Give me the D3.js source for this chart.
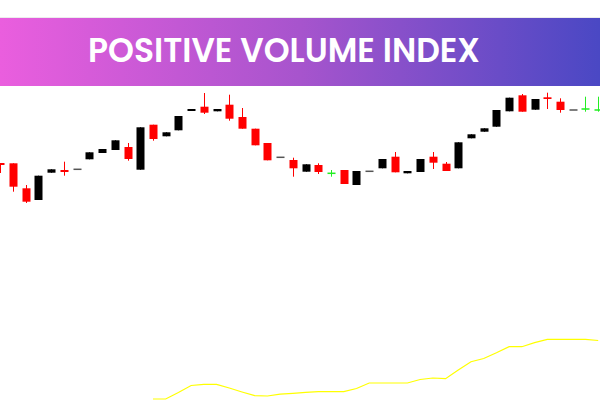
<!DOCTYPE html>
<html><head><meta charset="utf-8">
<script src="https://cdn.jsdelivr.net/npm/d3@7"></script>
<style>html,body{margin:0;padding:0;background:#fff;}svg{display:block;}</style>
</head><body>
<svg id="c" width="600" height="400"></svg>
<script>
const title = "POSITIVE VOLUME INDEX";
const opens  = [137,136.7,111.7,100,127.3,130,130.7,140.7,147,150,153,130.3,175.3,163.7,169.7,189,193.3,188.7,195.3,183,171.3,157,142.7,140,128.3,135,126.7,130,115,128.7,131.7,143.3,126.7,128,143.3,136.3,131.7,161.7,168.3,173.3,188.7,204.7,190.3,202.7,198.3,190,191,190];
const closes = [135,113.3,98.3,124.3,130.7,128,130.7,147.7,151,159.7,141,172.7,161,167.7,184,191,187.3,191,181.3,171.3,154.7,139.7,142.7,131.7,135.7,128,126.7,116,129,128.7,141,127.7,129,141,137.3,129,157.7,165.7,171.7,190,202.3,188.3,201,201,190,190,191,190];
const highs  = [137,136.7,115,124.3,130.7,138.3,130.7,147.7,151,159.7,157,172.7,175.3,167.7,184,191,207,191,205.3,192,171.3,157,142.7,142.3,135.7,136.7,130,130,129,128.7,141,148,129,141,148,138,157.7,165.7,171.7,190,202.3,206,201,207.3,201.7,190,203.3,203.3];
const lows   = [127,108.3,97,100,127.3,124.3,130.7,140.7,147,150,139.3,130.3,159.3,163.7,169.7,189,186,188.7,179.3,171.3,154.7,139.7,142.7,123.3,128.3,126,123.3,116,115,128.7,131.7,127.7,126.7,128,131,129,131.7,161.7,168.3,173.3,188.7,188.3,190.3,191,187.3,190,188.3,188.3];
const pviStart = 13;
const pvi = [1,1,7.5,14.5,15.7,15.7,12,8,4.3,4,5.8,6.7,7.7,8.3,8.3,8.3,11.5,17,17,17,17,20.5,22,21.3,30,38.3,41.5,47.2,53.3,53.3,57.3,60.7,60.7,60.7,60.7,59.5];

const svg = d3.select("#c");
const defs = svg.append("defs");
const g = defs.append("linearGradient").attr("id","bg").attr("x1","0").attr("x2","1").attr("y1","0").attr("y2","0");
g.append("stop").attr("offset","0%").attr("stop-color","#ea5ede");
g.append("stop").attr("offset","50%").attr("stop-color","#a754cd");
g.append("stop").attr("offset","100%").attr("stop-color","#4a48c4");

svg.append("rect").attr("x",0).attr("y",17).attr("width",600).attr("height",1).attr("fill","#ececec");
svg.append("rect").attr("x",0).attr("y",18).attr("width",600).attr("height",68).attr("fill","url(#bg)");
svg.append("text").attr("x",88).attr("y",62).attr("fill","#fff")
  .attr("font-family","Poppins, 'Open Sans', sans-serif").attr("font-weight",600).attr("font-size",34)
  .attr("textLength",392).attr("lengthAdjust","spacingAndGlyphs").text(title);

const n = opens.length;
const x = d3.scaleLinear().domain([1, n]).range([0.3, 598.2]);
const y = d3.scaleLinear().domain([90, 210]).range([210, 90]);
const yp = d3.scaleLinear().domain([0, 70]).range([400, 330]);

const candles = d3.range(n).map(i => ({i: i+1, o: opens[i], c: closes[i], h: highs[i], l: lows[i]}));
function col(d){
  if (d.o === d.c) return d.h > d.l ? "#22ee22" : "#555555";
  return d.c > d.o ? "#000000" : "#ff0000";
}
const cg = svg.append("g");
const bw = 8;
cg.selectAll("line.w").data(candles.filter(d => d.h > d.l)).join("line")
  .attr("x1", d => Math.round(x(d.i)) + 0.5).attr("x2", d => Math.round(x(d.i)) + 0.5)
  .attr("y1", d => y(d.h)).attr("y2", d => y(d.l))
  .attr("stroke", col).attr("stroke-width", 1);
cg.selectAll("rect.b").data(candles).join("rect")
  .attr("x", d => Math.round(x(d.i)) - bw/2 + 0.5)
  .attr("width", bw)
  .attr("y", d => Math.min(y(d.o), y(d.c)) - (d.o === d.c ? 0.75 : 0))
  .attr("height", d => d.o === d.c ? 1.5 : Math.max(1.5, Math.abs(y(d.o) - y(d.c))))
  .attr("fill", col);

const line = d3.line().x((d,k) => x(pviStart + k)).y(d => yp(d));
svg.append("path").datum(pvi).attr("d", line).attr("fill","none").attr("stroke","#ffff00").attr("stroke-width",1.2);
</script>
</body></html>
